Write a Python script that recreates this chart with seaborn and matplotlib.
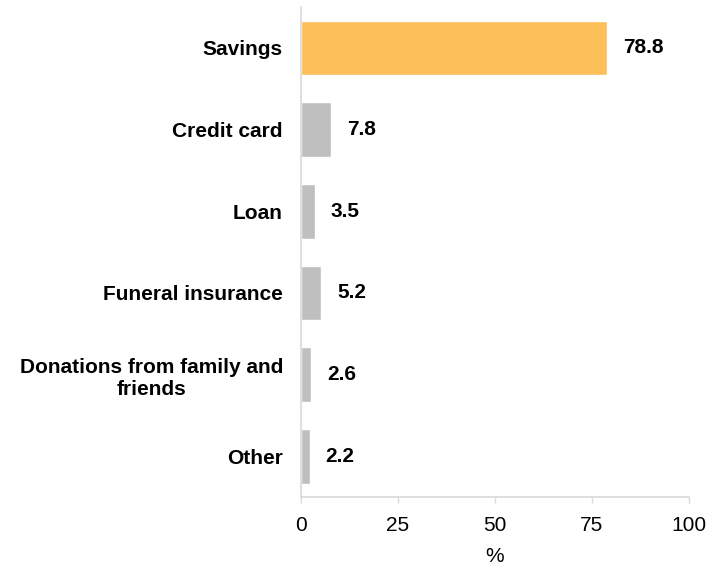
import matplotlib
matplotlib.use('Agg')
import matplotlib.pyplot as plt
import seaborn as sns
import pandas as pd

categories = ['Savings', 'Credit card', 'Loan', 'Funeral insurance',
              'Donations from family and\nfriends', 'Other']
values = [78.8, 7.8, 3.5, 5.2, 2.6, 2.2]
bar_colors = ['#FDBF57', '#BFBFBF', '#BFBFBF', '#BFBFBF', '#BFBFBF', '#BFBFBF']
x_ticks = [0, 25, 50, 75, 100]

sns.set_theme(style='white')
plt.rcParams['font.family'] = ['Liberation Sans', 'DejaVu Sans']

df = pd.DataFrame({'category': categories, 'value': values})

fig = plt.figure(figsize=(7.11, 5.67), dpi=100)
ax = fig.add_axes([0.4234, 0.1235, 0.5456, 0.864])

sns.barplot(data=df, x='value', y='category', hue='category', palette=bar_colors,
            legend=False, width=0.67, ax=ax, saturation=1)

# value labels to the right of each bar
for i, v in enumerate(values):
    ax.annotate(f'{v:.1f}', xy=(v, i), xytext=(16, 0), textcoords='offset pixels',
                va='center', ha='left', fontsize=15, fontweight='bold', color='black')

ax.set_xlim(0, 100)
ax.set_xticks(x_ticks)
ax.set_xticklabels([str(t) for t in x_ticks], fontsize=15, color='black')
ax.set_xlabel('%', fontsize=15, labelpad=9, color='black')
ax.set_ylabel('')
ax.set_yticks(range(len(categories)))
ax.set_yticklabels(categories, fontsize=15, fontweight='bold', color='black',
                   ha='right', multialignment='center')
ax.tick_params(axis='y', length=0, pad=13)
ax.tick_params(axis='x', length=4.5, width=1, color='#D9D9D9', pad=9, direction='out', bottom=True)

for s in ['top', 'right']:
    ax.spines[s].set_visible(False)
for s in ['left', 'bottom']:
    ax.spines[s].set_color('#D9D9D9')
    ax.spines[s].set_linewidth(1.2)

fig.savefig('out.png', dpi=100)
